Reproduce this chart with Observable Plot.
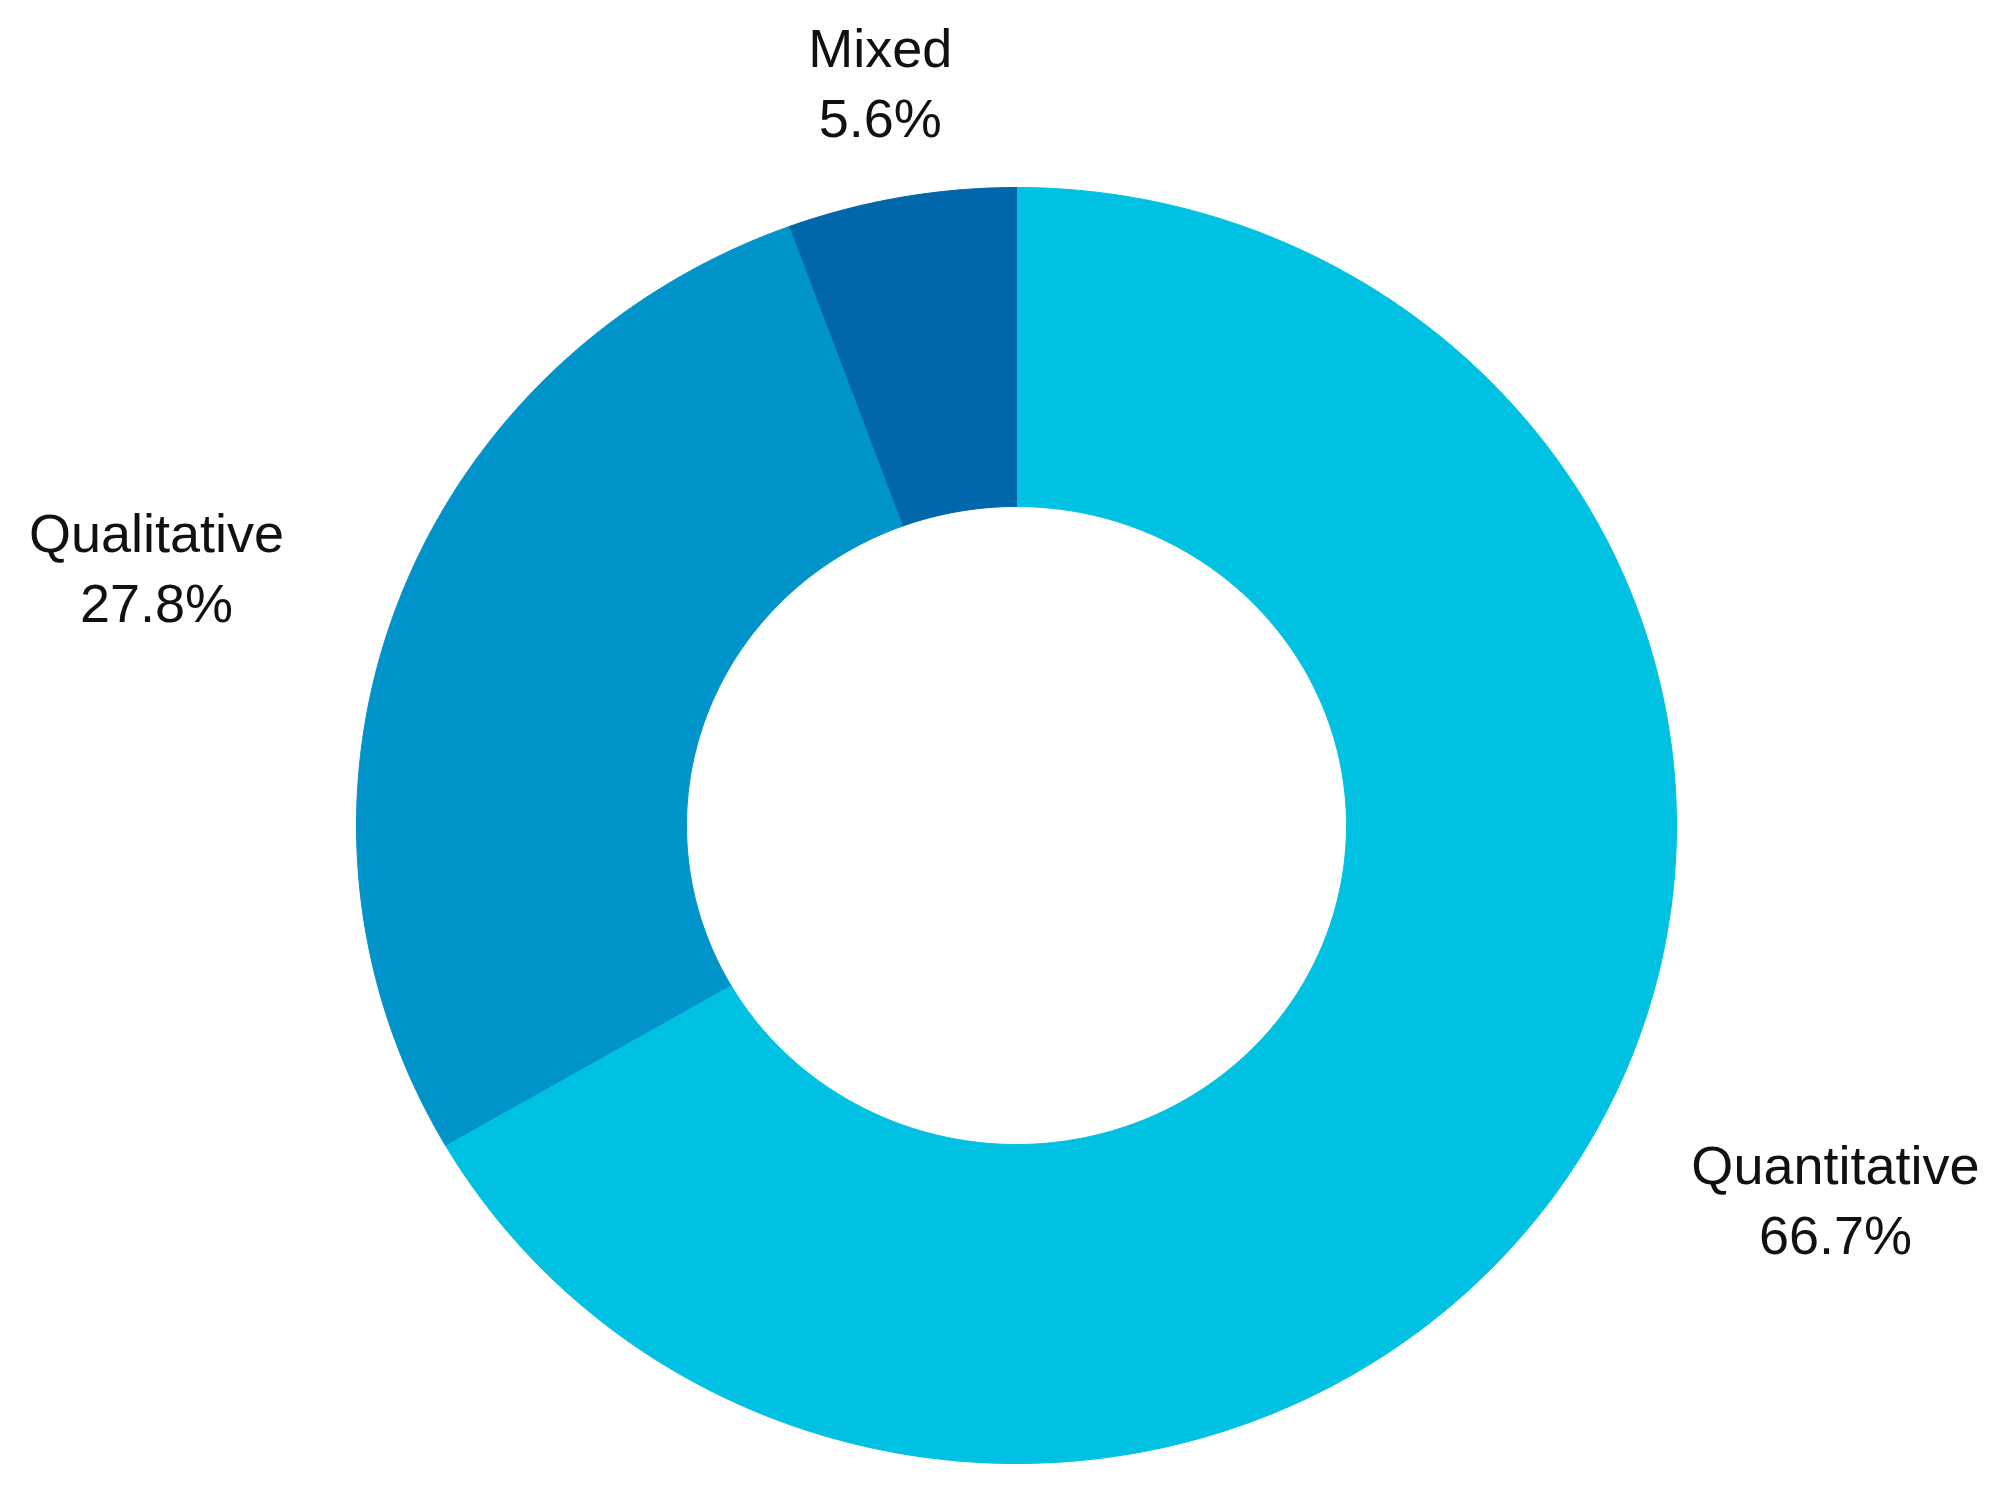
<!DOCTYPE html>
<html>
<head>
<meta charset="utf-8">
<script src="https://cdn.jsdelivr.net/npm/d3@7"></script>
<script src="https://cdn.jsdelivr.net/npm/@observablehq/plot@0.6"></script>
<style>
  html, body { margin: 0; padding: 0; background: #ffffff; }
  #chart { width: 2008px; height: 1499px; }
</style>
</head>
<body>
<div id="chart"></div>
<script>
// ---- data ----
const categories = ["Quantitative", "Qualitative", "Mixed"];
const values = [66.7, 27.8, 5.6];
const percentLabels = ["66.7%", "27.8%", "5.6%"];

// ---- styling / layout ----
const colors = ["#00c1e2", "#0094cb", "#0067ab"];
const W = 2008, H = 1499;
const xRange = [356, 1676];
const yRange = [1463, 187];
const innerRatio = 0.5;
const fontSize = 54;
const fontFamily = "'Liberation Sans', Arial, Helvetica, sans-serif";
const labelRadius = 1.18;

const total = d3.sum(values);
const rxPx = (xRange[1] - xRange[0]) / 2;

// build slice polygons from the values (angles clockwise from 12 o'clock)
const rows = [];
let acc = 0;
categories.forEach((cat, i) => {
  const a0 = acc / total * 2 * Math.PI;
  acc += values[i];
  const a1 = acc / total * 2 * Math.PI;
  const n = Math.max(8, Math.ceil((a1 - a0) / (2 * Math.PI) * 720));
  const pts = [];
  for (let k = 0; k <= n; k++) {
    const a = a0 + (a1 - a0) * k / n;
    pts.push([Math.sin(a), Math.cos(a)]);
  }
  for (let k = n; k >= 0; k--) {
    const a = a0 + (a1 - a0) * k / n;
    pts.push([innerRatio * Math.sin(a), innerRatio * Math.cos(a)]);
  }
  pts.forEach(([x, y]) => rows.push({cat, x, y}));
});

// label positions derived from slice mid-angles
const ctx = document.createElement("canvas").getContext("2d");
ctx.font = `${fontSize}px ${fontFamily}`;
const labels = [];
acc = 0;
categories.forEach((cat, i) => {
  const mid = (acc + values[i] / 2) / total * 2 * Math.PI;
  acc += values[i];
  const sx = Math.sin(mid), cy = Math.cos(mid);
  const w = Math.max(ctx.measureText(cat).width, ctx.measureText(percentLabels[i]).width);
  const side = Math.abs(sx) < 0.3 ? 0 : Math.sign(sx);
  labels.push({
    cat,
    text: cat + "\n" + percentLabels[i],
    x: labelRadius * sx + side * (w / 2) / rxPx,
    y: labelRadius * cy
  });
});

const chart = Plot.plot({
  width: W,
  height: H,
  margin: 0,
  style: {background: "#ffffff", fontFamily},
  x: {domain: [-1, 1], range: xRange, axis: null},
  y: {domain: [-1, 1], range: yRange, axis: null},
  color: {type: "ordinal", domain: categories, range: colors},
  marks: [
    Plot.line(rows, {x: "x", y: "y", z: "cat", fill: "cat", stroke: "cat", strokeWidth: 1, curve: "linear"}),
    Plot.text(labels, {
      x: "x", y: "y", text: "text",
      fontSize, fontFamily, lineHeight: 1.3,
      textAnchor: "middle", lineAnchor: "middle",
      dy: -5,
      fill: "#111111"
    })
  ]
});
document.getElementById("chart").appendChild(chart);
</script>
</body>
</html>
